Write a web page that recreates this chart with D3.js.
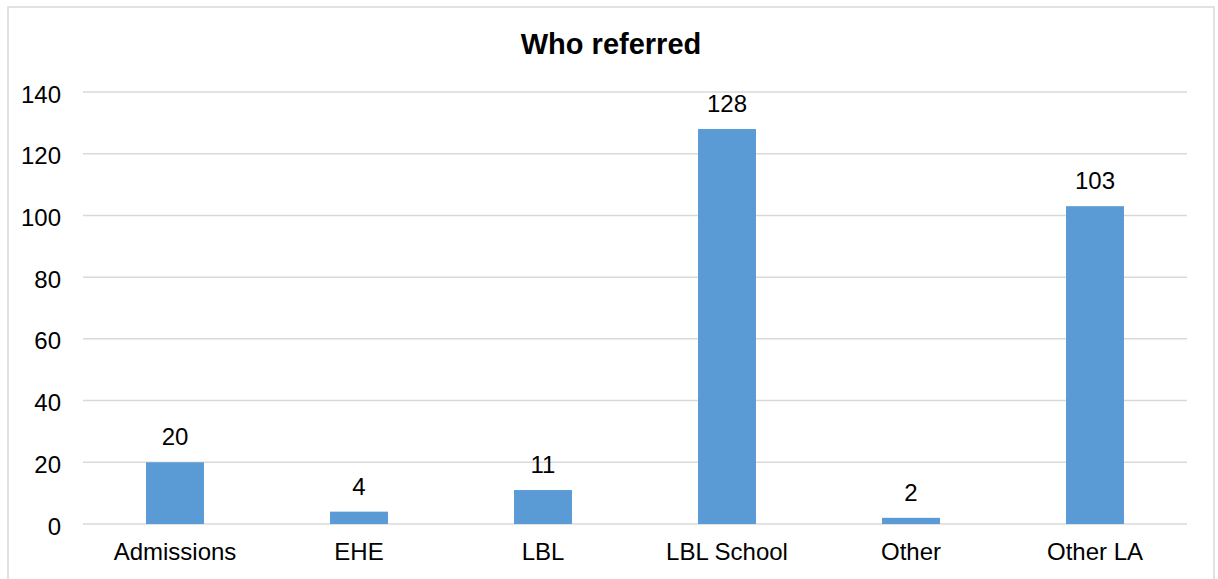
<!DOCTYPE html>
<html>
<head>
<meta charset="utf-8">
<script src="https://cdn.jsdelivr.net/npm/d3@7"></script>
<style>
  html, body { margin: 0; padding: 0; background: #fff; }
  svg { display: block; font-family: "Liberation Sans", Arial, sans-serif; }
</style>
</head>
<body>
<svg id="chart" width="1218" height="579"></svg>
<script>
const title = "Who referred";
const categories = ["Admissions", "EHE", "LBL", "LBL School", "Other", "Other LA"];
const values = [20, 4, 11, 128, 2, 103];
const yTicks = [0, 20, 40, 60, 80, 100, 120, 140];

const svg = d3.select("#chart");
const plot = { left: 83, right: 1187, top: 92, bottom: 524 };

svg.append("rect")
  .attr("x", 8).attr("y", 7)
  .attr("width", 1206).attr("height", 620)
  .attr("fill", "#fff")
  .attr("stroke", "#d9d9d9").attr("stroke-width", 1.5);

svg.append("text")
  .attr("x", 611).attr("y", 54)
  .attr("text-anchor", "middle")
  .attr("font-size", 29).attr("font-weight", "bold")
  .attr("fill", "#000")
  .text(title);

const x = d3.scaleBand().domain(categories).range([plot.left, plot.right]).paddingInner(0.685).paddingOuter(0.3425);
const y = d3.scaleLinear().domain([0, 140]).range([plot.bottom, plot.top]);

const grid = svg.append("g");
grid.selectAll("line").data(yTicks).join("line")
  .attr("x1", plot.left).attr("x2", plot.right)
  .attr("y1", d => y(d)).attr("y2", d => y(d))
  .attr("stroke", "#d9d9d9").attr("stroke-width", 1.5);

const yAxis = d3.axisLeft(y).tickValues(yTicks).tickSize(0).tickPadding(22);
const yg = svg.append("g").attr("transform", `translate(${plot.left},0)`).call(yAxis);
yg.select(".domain").remove();
yg.selectAll("text").attr("font-size", 24).attr("fill", "#000")
  .attr("font-family", "Liberation Sans, Arial, sans-serif")
  .attr("dy", "0.42em");

svg.append("g").selectAll("rect").data(values).join("rect")
  .attr("x", (d, i) => x(categories[i]))
  .attr("width", x.bandwidth())
  .attr("y", d => y(d))
  .attr("height", d => y(0) - y(d))
  .attr("fill", "#5B9BD5");

svg.append("g").selectAll("text").data(values).join("text")
  .attr("x", (d, i) => x(categories[i]) + x.bandwidth() / 2)
  .attr("y", d => y(d) - 17)
  .attr("text-anchor", "middle")
  .attr("font-size", 24).attr("fill", "#000")
  .text(d => d);

const xAxis = d3.axisBottom(x).tickSize(0).tickPadding(0);
const xg = svg.append("g").attr("transform", `translate(0,${plot.bottom})`).call(xAxis);
xg.select(".domain").remove();
xg.selectAll("text").attr("font-size", 24).attr("fill", "#000")
  .attr("font-family", "Liberation Sans, Arial, sans-serif")
  .attr("dy", null).attr("y", 36);
</script>
</body>
</html>
